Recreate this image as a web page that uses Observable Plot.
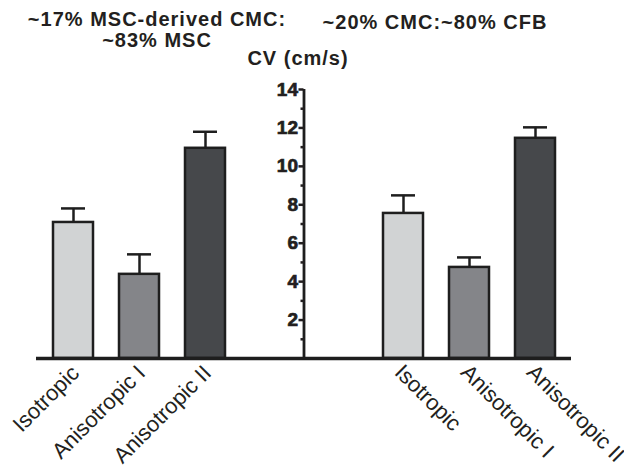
<!DOCTYPE html>
<html>
<head>
<meta charset="utf-8">
<script src="https://cdn.jsdelivr.net/npm/d3@7"></script>
<script src="https://cdn.jsdelivr.net/npm/@observablehq/plot@0.6"></script>
<style>
  html, body { margin: 0; padding: 0; background: #fff; }
  #wrap { position: relative; width: 624px; height: 474px; font-family: "Liberation Sans", Arial, sans-serif; color: #231f20; }
  .ttl { position: absolute; font-weight: bold; font-size: 20px; line-height: 21px; text-align: center; letter-spacing: 1px; white-space: nowrap; }
  svg { position: absolute; left: 0; top: 0; }
</style>
</head>
<body>
<div id="wrap">
  <div class="ttl" id="t1" style="left:17px; width:280px; top:9px;"></div>
  <div class="ttl" id="t2" style="left:300px; width:270px; top:12px;"></div>
  <div class="ttl" id="ylab" style="left:218px; width:160px; top:48px;"></div>
</div>
<script>
// ---- data ----
const categories = ["Isotropic", "Anisotropic I", "Anisotropic II"];
const groupKeys = ["MSC", "CFB"];
const groupTitles = ["~17% MSC-derived CMC:\n~83% MSC", "~20% CMC:~80% CFB"];
const mscMeans = [7.08, 4.38, 10.94];
const mscErrors = [0.73, 1.04, 0.86];
const cfbMeans = [7.55, 4.74, 11.46];
const cfbErrors = [0.94, 0.52, 0.57];
const yLabel = "CV (cm/s)";
const yTicks = [2, 4, 6, 8, 10, 12, 14];
const yMinorTicks = [1, 3, 5, 7, 9, 11, 13];
const fills = ["#d1d3d4", "#848589", "#46484b"];

// ---- build table ----
const rows = [];
[[mscMeans, mscErrors], [cfbMeans, cfbErrors]].forEach(([means, errs], g) => {
  categories.forEach((c, i) => rows.push({key: groupKeys[g] + "|" + c, group: groupKeys[g], category: c, mean: means[i], err: errs[i], top: means[i] + errs[i]}));
});
const leftKeys = categories.map(c => groupKeys[0] + "|" + c);
const rightKeys = categories.map(c => groupKeys[1] + "|" + c);
const slots = [...leftKeys, "gap1", "gap2", ...rightKeys];
const fmt = k => k.split("|")[1];

document.getElementById("t1").innerText = groupTitles[0];
document.getElementById("t2").innerText = groupTitles[1];
document.getElementById("ylab").innerText = yLabel;

const ink = "#1e1e1e";
const chart = Plot.plot({
  width: 624,
  height: 474,
  marginTop: 89,
  marginBottom: 116,
  marginLeft: 36,
  marginRight: 53,
  style: {fontFamily: '"Liberation Sans", Arial, sans-serif', color: "#231f20", background: "transparent"},
  x: {domain: slots, paddingInner: 0.4, paddingOuter: 0.2},
  y: {domain: [0, 14]},
  color: {domain: categories, range: fills},
  marks: [
    Plot.ruleX(rows, {x: "key", y1: "mean", y2: "top", stroke: ink, strokeWidth: 2.5}),
    Plot.tickY(rows, {x: "key", y: "top", stroke: ink, strokeWidth: 2.5, insetLeft: 8, insetRight: 8}),
    Plot.barY(rows, {x: "key", y: "mean", fill: "category", stroke: ink, strokeWidth: 2.5}),
    Plot.ruleX([0], {x: null, y1: 0, y2: 14, stroke: ink, strokeWidth: 2.8}),
    Plot.ruleY([0], {stroke: ink, strokeWidth: 3.4}),
    Plot.axisY(yMinorTicks, {frameAnchor: "middle", tickSize: 3, strokeWidth: 2.5, tickFormat: () => ""}),
    Plot.axisY(yTicks, {frameAnchor: "middle", tickSize: 5, strokeWidth: 2.5, tickPadding: 1, fontSize: 19, fontWeight: "bold", label: null}),
    Plot.axisX(leftKeys, {tickRotate: -45, tickSize: 0, tickPadding: 11, tickFormat: fmt, fontSize: 22, dx: 2, label: null}),
    Plot.axisX(rightKeys, {tickRotate: 45, tickSize: 0, tickPadding: 10, tickFormat: fmt, fontSize: 22, dx: -5, label: null})
  ]
});
// heavier numeric tick labels (style only)
const tickStrings = new Set(yTicks.map(String));
chart.querySelectorAll("text").forEach(t => {
  if (tickStrings.has(t.textContent.trim())) {
    t.style.fontWeight = "700";
    t.style.fontVariant = "normal";
    t.style.fontFamily = '"Liberation Sans", Arial, sans-serif';
    t.style.fill = "#231f20";
    t.style.stroke = "#231f20";
    t.style.strokeWidth = "0.7px";
  }
});
document.getElementById("wrap").prepend(chart);
</script>
</body>
</html>
